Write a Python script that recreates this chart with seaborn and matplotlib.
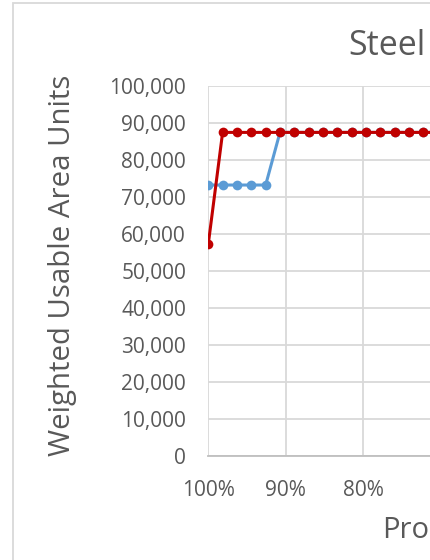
import matplotlib
matplotlib.use("Agg")

import pandas as pd
import matplotlib.pyplot as plt
import seaborn as sns
from matplotlib.patches import Rectangle
from matplotlib.ticker import FixedFormatter

# -------------------------------
# DATA
# -------------------------------

proportion = [100, 98.15, 96.30, 94.44, 92.59, 90.74, 88.89, 87.04, 85.19,
              83.33, 81.48, 79.63, 77.78, 75.93, 74.07, 72.22, 70.37, 68.52]

blue_units = [73200, 73200, 73200, 73200, 73200, 87400, 87400, 87400, 87400,
              87400, 87400, 87400, 87400, 87400, 87400, 87400, 87400, 87400]

red_units = [57300, 87400, 87400, 87400, 87400, 87400, 87400, 87400, 87400,
             87400, 87400, 87400, 87400, 87400, 87400, 87400, 87400, 87400]

x_ticks = [100, 90, 80, 70, 60, 50, 40, 30, 20, 10, 0]
# only the labels that sit inside the cropped picture
x_tick_labels = ["100%", "90%", "80%", "", "", "", "", "", "", "", ""]
y_ticks = [0, 10000, 20000, 30000, 40000, 50000, 60000, 70000, 80000, 90000, 100000]
y_tick_labels = ["0", "10,000", "20,000", "30,000", "40,000", "50,000",
                 "60,000", "70,000", "80,000", "90,000", "100,000"]

df = pd.DataFrame({
    "Proportion": proportion * 2,
    "Units": blue_units + red_units,
    "Series": ["blue"] * len(blue_units) + ["red"] * len(red_units),
})

# -------------------------------
# STYLE
# -------------------------------

sns.set_style("white")
plt.rcParams["font.family"] = ["Open Sans", "DejaVu Sans"]

text_color = "#595959"
grid_color = "#D9D9D9"

fig = plt.figure(figsize=(4.3, 5.6), dpi=100)

# chart frame (runs off the right and bottom edges, like the cropped original)
fig.patches.append(Rectangle((12.5 / 430, -0.1), 1.2, 1.1 - 3.3 / 560,
                             transform=fig.transFigure, fill=False,
                             edgecolor="#D9D9D9", linewidth=1.3))

# plot area is wider than the figure: the picture is a crop
ax = fig.add_axes([208.3 / 430, 103.7 / 560, 774 / 430, 370.6 / 560])

sns.lineplot(
    data=df,
    x="Proportion",
    y="Units",
    hue="Series",
    palette={"blue": "#5B9BD5", "red": "#C00000"},
    marker="o",
    markersize=7,
    markeredgewidth=0,
    linewidth=2.2,
    estimator=None,
    sort=False,
    legend=False,
    ax=ax,
)

ax.set_xlim(100, 0)
ax.set_ylim(0, 100000)
ax.set_xticks(x_ticks)
ax.set_yticks(y_ticks)
ax.xaxis.set_major_formatter(FixedFormatter(x_tick_labels))
ax.yaxis.set_major_formatter(FixedFormatter(y_tick_labels))

ax.grid(True, color=grid_color, linewidth=1.3)
ax.set_axisbelow(True)
for side in ["top", "right", "left"]:
    ax.spines[side].set_visible(False)
ax.spines["bottom"].set_color("#BFBFBF")
ax.spines["bottom"].set_linewidth(1.3)

ax.tick_params(axis="both", length=0, labelsize=15, labelcolor=text_color)
ax.tick_params(axis="y", pad=16)
ax.tick_params(axis="x", pad=17)

ax.set_xlabel("")
ax.set_ylabel("")

# titles (cropped at the right edge in the original)
fig.text(348 / 430, (560 - 46) / 560, "Steel", fontsize=24.5,
         color=text_color, ha="left", va="center")
fig.text(63 / 430, (560 - 265) / 560, "Weighted Usable Area Units",
         fontsize=21.2, color=text_color, rotation=90, ha="center", va="center")
fig.text(382 / 430, (560 - 530) / 560, "Pro",
         fontsize=21, color=text_color, ha="left", va="center")

fig.savefig("out.png", dpi=100)
